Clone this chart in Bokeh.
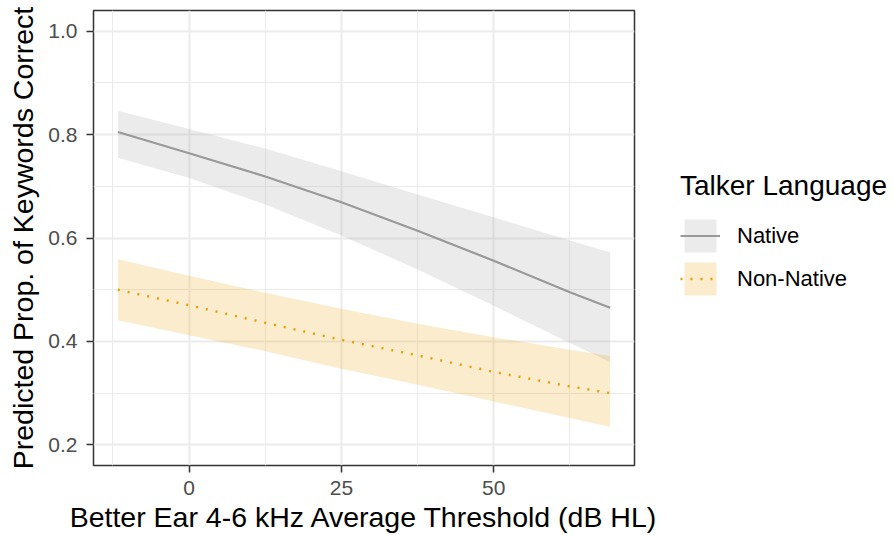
from bokeh.plotting import figure
from bokeh.layouts import row
from bokeh.models import (Range1d, FixedTicker, NumeralTickFormatter, Legend, LegendItem,
                          ColumnDataSource)
from bokeh.embed import file_html
from bokeh.resources import INLINE

# Data
threshold = [-11.7, 0, 12.5, 25, 37.5, 50, 62.5, 69.1]
native_fit = [0.805, 0.764, 0.719, 0.669, 0.614, 0.556, 0.495, 0.465]
native_upper = [0.846, 0.811, 0.773, 0.729, 0.684, 0.640, 0.595, 0.572]
native_lower = [0.755, 0.716, 0.665, 0.605, 0.539, 0.469, 0.397, 0.360]
nonnative_fit = [0.500, 0.470, 0.436, 0.403, 0.373, 0.341, 0.313, 0.300]
nonnative_upper = [0.559, 0.527, 0.494, 0.463, 0.434, 0.408, 0.384, 0.372]
nonnative_lower = [0.441, 0.412, 0.381, 0.347, 0.316, 0.284, 0.252, 0.235]

x_ticks = [0, 25, 50]
x_minor = [-12.5, 12.5, 37.5, 62.5]
y_ticks = [0.2, 0.4, 0.6, 0.8, 1.0]
y_minor = [0.3, 0.5, 0.7, 0.9]

series_labels = ["Native", "Non-Native"]
series_colors = ["#999999", "#E69F00"]

FONT = "Liberation Sans"

src = ColumnDataSource(dict(x=threshold, nf=native_fit, nu=native_upper, nl=native_lower,
                            of=nonnative_fit, ou=nonnative_upper, ol=nonnative_lower))

p = figure(width=665, height=535, output_backend="svg", toolbar_location=None,
           x_range=Range1d(-15.7, 73.1), y_range=Range1d(0.16, 1.04),
           min_border_left=93, min_border_right=31, min_border_top=10, min_border_bottom=70)

p.background_fill_color = "white"
p.border_fill_color = "white"
p.outline_line_color = "#333333"
p.outline_line_width = 1.5

# Ribbons and lines
p.varea(x="x", y1="nl", y2="nu", source=src, fill_color=series_colors[0], fill_alpha=0.2)
p.varea(x="x", y1="ol", y2="ou", source=src, fill_color=series_colors[1], fill_alpha=0.2)
p.line(x="x", y="nf", source=src, line_color=series_colors[0], line_width=2.2)
p.line(x="x", y="of", source=src, line_color=series_colors[1], line_width=2.4,
       line_dash="2 8", line_cap="butt")

# Axes
p.xaxis.ticker = FixedTicker(ticks=x_ticks, minor_ticks=x_minor)
p.yaxis.ticker = FixedTicker(ticks=y_ticks, minor_ticks=y_minor)
p.yaxis.formatter = NumeralTickFormatter(format="0.0")
for ax in (p.xaxis, p.yaxis):
    ax.axis_line_color = None
    ax.major_tick_line_color = "#333333"
    ax.major_tick_line_width = 1.5
    ax.major_tick_out = 7
    ax.major_tick_in = 0
    ax.minor_tick_line_color = None
    ax.major_label_text_font = FONT
    ax.major_label_text_font_size = "21px"
    ax.major_label_text_color = "#4D4D4D"
    ax.axis_label_text_font = FONT
    ax.axis_label_text_font_size = "28.5px"
    ax.axis_label_text_font_style = "normal"
    ax.axis_label_text_color = "black"
p.xaxis.axis_label = "Better Ear 4-6 kHz Average Threshold (dB HL)"
p.yaxis.axis_label = "Predicted Prop. of Keywords Correct"
p.xaxis.major_label_standoff = 8
p.xaxis.axis_label_standoff = 3
p.yaxis.major_label_standoff = 9
p.yaxis.axis_label_standoff = 6

# Grid
for g in (p.xgrid, p.ygrid):
    g.grid_line_color = "#EBEBEB"
    g.grid_line_width = 2
    g.minor_grid_line_color = "#EBEBEB"
    g.minor_grid_line_width = 1
p.xgrid.ticker = p.xaxis.ticker
p.ygrid.ticker = p.yaxis.ticker

# Legend panel: a separate figure to the right; its key glyphs use the same styles
lg = figure(width=228, height=535, output_backend="svg", toolbar_location=None,
            x_range=Range1d(0, 1), y_range=Range1d(0, 1), min_border=0,
            x_axis_location=None, y_axis_location=None)
lg.outline_line_color = None
lg.grid.visible = False
lg.background_fill_color = "white"
lg.border_fill_color = "white"

# keys: drawn outside the visible range, only their legend swatches show
off = [5, 6]
la = lg.varea(x=off, y1=off, y2=off, fill_color=series_colors[0], fill_alpha=0.2)
ll = lg.line(x=off, y=off, line_color=series_colors[0], line_width=2.2)
ba = lg.varea(x=off, y1=off, y2=off, fill_color=series_colors[1], fill_alpha=0.2)
bl = lg.line(x=off, y=off, line_color=series_colors[1], line_width=2.4, line_dash="2 8",
             line_cap="butt")

legend = Legend(items=[LegendItem(label=series_labels[0], renderers=[la, ll]),
                       LegendItem(label=series_labels[1], renderers=[ba, bl])],
                location=(15, 166), title="Talker Language",
                title_text_font=FONT, title_text_font_size="28px", title_text_font_style="normal",
                title_text_color="black", title_standoff=13,
                label_text_font=FONT, label_text_font_size="22px", label_text_color="black",
                glyph_width=40, glyph_height=41, label_standoff=17, spacing=2,
                padding=0, margin=0, border_line_color=None, background_fill_alpha=0)
lg.add_layout(legend, "center")

layout = row(p, lg, spacing=0)
open("out.html", "w").write(file_html(layout, INLINE))
